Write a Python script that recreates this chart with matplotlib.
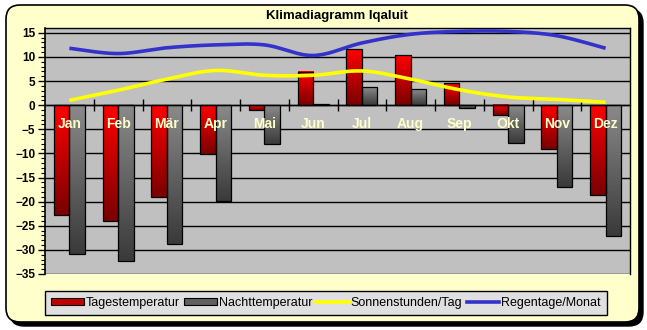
import numpy as np
import matplotlib
matplotlib.use("Agg")
import matplotlib.pyplot as plt
from matplotlib.colors import LinearSegmentedColormap
from matplotlib.patches import FancyBboxPatch, Patch
from matplotlib.lines import Line2D

plt.rcParams['font.family'] = ['Liberation Sans', 'DejaVu Sans']

months = ['Jan', 'Feb', 'Mär', 'Apr', 'Mai', 'Jun', 'Jul', 'Aug', 'Sep', 'Okt', 'Nov', 'Dez']
tag_temp = [-22.7, -24.0, -19.0, -10.1, -1.0, 6.9, 11.6, 10.3, 4.5, -2.1, -9.0, -18.6]
nacht_temp = [-30.9, -32.4, -28.8, -19.9, -8.0, 0.2, 3.7, 3.3, -0.5, -7.8, -16.9, -27.1]
sonne = [1.0, 3.1, 5.4, 7.2, 6.2, 6.2, 7.1, 5.4, 3.2, 1.7, 1.2, 0.6]
regen = [11.8, 10.7, 11.9, 12.5, 12.5, 10.3, 12.9, 14.7, 15.3, 15.3, 14.4, 11.8]


def smooth(xs, ys, n=20):
    # Catmull-Rom style smoothing like Excel's smoothed lines
    pts = np.column_stack([xs, ys]).astype(float)
    p = np.vstack([pts[0], pts, pts[-1]])
    out = []
    t = np.linspace(0, 1, n)[:, None]
    for i in range(1, len(p) - 2):
        p0, p1, p2, p3 = p[i - 1], p[i], p[i + 1], p[i + 2]
        c1 = p1 + (p2 - p0) / 6
        c2 = p2 - (p3 - p1) / 6
        seg = ((1 - t) ** 3) * p1 + 3 * ((1 - t) ** 2) * t * c1 + 3 * (1 - t) * t ** 2 * c2 + t ** 3 * p2
        out.append(seg if i == 1 else seg[1:])
    out = np.vstack(out)
    return out[:, 0], out[:, 1]


W, H = 647, 330
fig = plt.figure(figsize=(W / 100, H / 100), dpi=100)
fig.patch.set_facecolor('white')

# background frame in pixel coordinates
bg = fig.add_axes([0, 0, 1, 1])
bg.set_xlim(0, W)
bg.set_ylim(H, 0)
bg.axis('off')
bg.add_patch(FancyBboxPatch((10, 9), 633, 317, boxstyle="round,pad=0,rounding_size=14",
                            fc='black', ec='black', lw=1))
bg.add_patch(FancyBboxPatch((6, 5), 633, 317, boxstyle="round,pad=0,rounding_size=14",
                            fc='#FFFFCC', ec='black', lw=1.2))
bg.text(337, 16.5, 'Klimadiagramm Iqaluit', ha='center', va='center',
        fontsize=9.5, fontweight='bold')

ax = fig.add_axes([45 / W, 1 - 274 / H, 585 / W, 246 / H])
ax.set_facecolor('#C0C0C0')
x = np.arange(len(months))
w = 0.32

red_cmap = LinearSegmentedColormap.from_list('r', ['#7A0000', '#FF0000'])
grey_cmap = LinearSegmentedColormap.from_list('g', ['#3A3A3A', '#8A8A8A'])
grad = np.linspace(1, 0, 100)[:, None]

b1 = ax.bar(x - w / 2, tag_temp, w, facecolor='none', edgecolor='black', lw=0.9, zorder=3)
b2 = ax.bar(x + w / 2, nacht_temp, w, facecolor='none', edgecolor='black', lw=0.9, zorder=3)
for bars, cm in ((b1, red_cmap), (b2, grey_cmap)):
    for p in bars:
        x0, y0, bw, bh = p.get_x(), p.get_y(), p.get_width(), p.get_height()
        ax.imshow(grad, cmap=cm, aspect='auto', zorder=2,
                  extent=[x0, x0 + bw, min(y0, y0 + bh), max(y0, y0 + bh)])

sx, sy = smooth(x, sonne)
ax.plot(sx, sy, color='#FFFF00', lw=2.6, zorder=4, solid_capstyle='butt')
rx, ry = smooth(x, regen)
ax.plot(rx, ry, color='#3333CC', lw=2.6, zorder=4, solid_capstyle='butt')

for xi, m in zip(x, months):
    ax.text(xi, -4, m, ha='center', va='center', color='#FFFFCC',
            fontsize=10, fontweight='bold', zorder=5)

ax.set_xlim(-0.5, 11.5)
ax.set_ylim(-35, 16)
ax.set_yticks(np.arange(-35, 16, 5))
ax.set_yticks(np.arange(-35, 16, 1), minor=True)
ax.yaxis.grid(True, color='black', lw=1)
ax.set_axisbelow(True)
ax.tick_params(axis='y', which='major', length=5, width=1, labelsize=8.5, pad=2)
ax.tick_params(axis='y', which='minor', length=3, width=0.8)
for lab in ax.get_yticklabels():
    lab.set_fontweight('bold')

ax.spines['bottom'].set_position(('data', 0))
ax.spines['bottom'].set_zorder(3.5)
ax.set_xticks(np.arange(0.5, 11, 1))
ax.tick_params(axis='x', length=8, direction='inout', labelbottom=False, width=1)
for s in ax.spines.values():
    s.set_linewidth(1)
ax.spines['left'].set_linewidth(1.2)

handles = [Patch(facecolor='#C00000', edgecolor='black', lw=0.8),
           Patch(facecolor='#606060', edgecolor='black', lw=0.8),
           Line2D([], [], color='#FFFF00', lw=2.6),
           Line2D([], [], color='#3333CC', lw=2.6)]
labels = ['Tagestemperatur', 'Nachttemperatur', 'Sonnenstunden/Tag', 'Regentage/Monat']
leg = fig.legend(handles, labels, loc='lower left', ncol=4,
                 bbox_to_anchor=(45 / W, 1 - 315 / H), borderaxespad=0,
                 fancybox=False, frameon=True, fontsize=9,
                 handlelength=2.6, handleheight=0.5, handletextpad=0.15,
                 columnspacing=0.35, borderpad=0.5)
leg.get_frame().set_facecolor('#E0E0E0')
leg.get_frame().set_edgecolor('black')
leg.get_frame().set_alpha(1)
leg.get_frame().set_linewidth(1)

fig.savefig('out.png', dpi=100)
